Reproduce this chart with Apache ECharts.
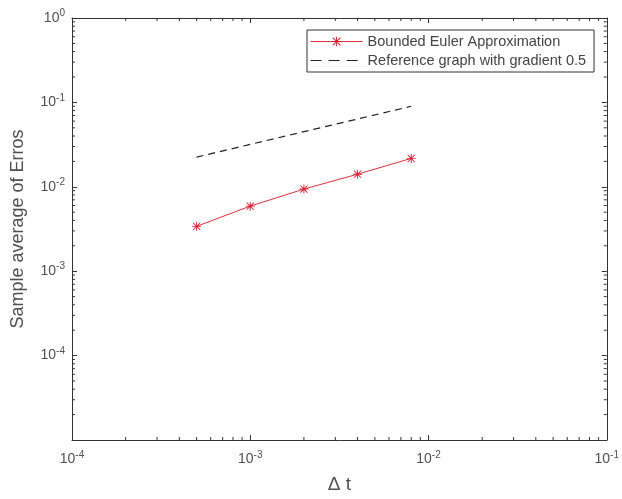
<!DOCTYPE html>
<html>
<head>
<meta charset="utf-8">
<script src="https://cdn.jsdelivr.net/npm/echarts@6/dist/echarts.min.js"></script>
<style>html,body{margin:0;padding:0;background:#fff}#c{width:622px;height:499px}</style>
</head>
<body>
<div id="c"></div>
<script>
var dt = [0.0005, 0.001, 0.002, 0.004, 0.008];
var eulerErr = [0.0034, 0.0059, 0.0094, 0.0141, 0.0217];
var refLine = [0.0225, 0.0318, 0.045, 0.0636, 0.09];
var seriesNames = ['Bounded Euler Approximation', 'Reference graph with gradient 0.5'];
var xRange = [1e-4, 1e-1];
var yRange = [1e-5, 1];

function minorTicks(lo, hi) {
  var out = [];
  for (var e = Math.round(Math.log10(lo)); e < Math.round(Math.log10(hi)); e++) {
    for (var k = 2; k <= 9; k++) out.push(k * Math.pow(10, e));
  }
  return out;
}
var xMinor = minorTicks(xRange[0], xRange[1]);
var yMinor = minorTicks(yRange[0], yRange[1]);

var axisCol = '#333333';
var labelCol = '#505050';
var font = 'Liberation Sans, Arial, sans-serif';
function fmtX(v) {
  var e = Math.round(Math.log10(v));
  return '{b|10}{s|' + e + '}';
}
function fmtY(v) {
  var e = Math.round(Math.log10(v));
  if (e === -5) return '';
  return '{b|10}{s|' + e + '}';
}
var rich = {
  b: {fontSize: 14, color: labelCol, fontFamily: font},
  s: {fontSize: 10, color: labelCol, fontFamily: font, padding: [0, 0, 9, 0]}
};
var asterisk = 'path://M4.5 0L5.5 0L5.5 10L4.5 10Z M0 4.5L10 4.5L10 5.5L0 5.5Z M0.7 1.4L1.4 0.7L9.3 8.6L8.6 9.3Z M8.6 0.7L9.3 1.4L1.4 9.3L0.7 8.6Z';

function baseAxis(pos, range, show, fmt, margin) {
  return {
    type: 'log', logBase: 10, position: pos,
    min: range[0], max: range[1],
    axisLine: {show: true, onZero: false, lineStyle: {color: axisCol, width: 1}},
    axisTick: {show: true, inside: true, length: 5, lineStyle: {color: axisCol}},
    axisLabel: {show: show, formatter: fmt, rich: rich, margin: margin},
    splitLine: {show: false},
    minorTick: {show: false}
  };
}
var xa0 = baseAxis('bottom', xRange, true, fmtX, 10);
xa0.name = 'Δ t';
xa0.nameLocation = 'middle';
xa0.nameGap = 35;
xa0.nameTextStyle = {fontSize: 19, color: labelCol, fontFamily: font};
var xa1 = baseAxis('top', xRange, false, fmtX, 8);
var ya0 = baseAxis('left', yRange, true, fmtY, 7);
ya0.name = 'Sample average of Erros';
ya0.nameLocation = 'middle';
ya0.nameGap = 45;
ya0.nameTextStyle = {fontSize: 18, color: labelCol, fontFamily: font};
var ya1 = baseAxis('right', yRange, false, fmtY, 8);

var option = {
  animation: false,
  backgroundColor: '#fff',
  grid: {left: 72, top: 18, right: 15, bottom: 57, containLabel: false},
  xAxis: [xa0, xa1],
  yAxis: [ya0, ya1],
  legend: {
    data: [
      {name: seriesNames[0], lineStyle: {width: 1.2, color: '#e0303c'}},
      {name: seriesNames[1], itemStyle: {color: 'rgba(0,0,0,0)', borderWidth: 0, opacity: 0},
       lineStyle: {type: [11, 7], width: 1.2, color: '#222'}}
    ],
    orient: 'vertical',
    left: 307, top: 30,
    itemWidth: 52, itemHeight: 12, itemGap: 4,
    padding: [4, 8, 4, 3],
    borderColor: axisCol, borderWidth: 1,
    backgroundColor: '#fff',
    textStyle: {fontSize: 14.5, color: '#444', fontFamily: font}
  },
  series: [
    {
      name: seriesNames[0], type: 'line',
      data: dt.map(function (x, i) { return [x, eulerErr[i]]; }),
      symbol: asterisk, symbolSize: 9,
      lineStyle: {color: '#e0303c', width: 1},
      itemStyle: {color: '#d62035'},
      z: 3
    },
    {
      name: seriesNames[1], type: 'line',
      data: dt.map(function (x, i) { return [x, refLine[i]]; }),
      symbol: 'none',
      lineStyle: {color: '#222', width: 1.2, type: [7, 5]},
      itemStyle: {color: '#222'},
      z: 3
    },
    {
      type: 'custom', silent: true, clip: false,
      data: xMinor.map(function (v) { return [v, yRange[0]]; }),
      renderItem: function (params, api) {
        var v = api.value(0);
        var b = api.coord([v, yRange[0]]);
        var t = api.coord([v, yRange[1]]);
        return {type: 'group', children: [
          {type: 'line', shape: {x1: b[0], y1: b[1], x2: b[0], y2: b[1] - 3}, style: {stroke: axisCol, lineWidth: 1}},
          {type: 'line', shape: {x1: t[0], y1: t[1], x2: t[0], y2: t[1] + 3}, style: {stroke: axisCol, lineWidth: 1}}
        ]};
      }
    },
    {
      type: 'custom', silent: true, clip: false,
      data: yMinor.map(function (v) { return [xRange[0], v]; }),
      renderItem: function (params, api) {
        var v = api.value(1);
        var l = api.coord([xRange[0], v]);
        var r = api.coord([xRange[1], v]);
        return {type: 'group', children: [
          {type: 'line', shape: {x1: l[0], y1: l[1], x2: l[0] + 3, y2: l[1]}, style: {stroke: axisCol, lineWidth: 1}},
          {type: 'line', shape: {x1: r[0], y1: r[1], x2: r[0] - 3, y2: r[1]}, style: {stroke: axisCol, lineWidth: 1}}
        ]};
      }
    }
  ]
};
var chart = echarts.init(document.getElementById('c'), null, {renderer: 'canvas'});
chart.setOption(option);
</script>
</body>
</html>
